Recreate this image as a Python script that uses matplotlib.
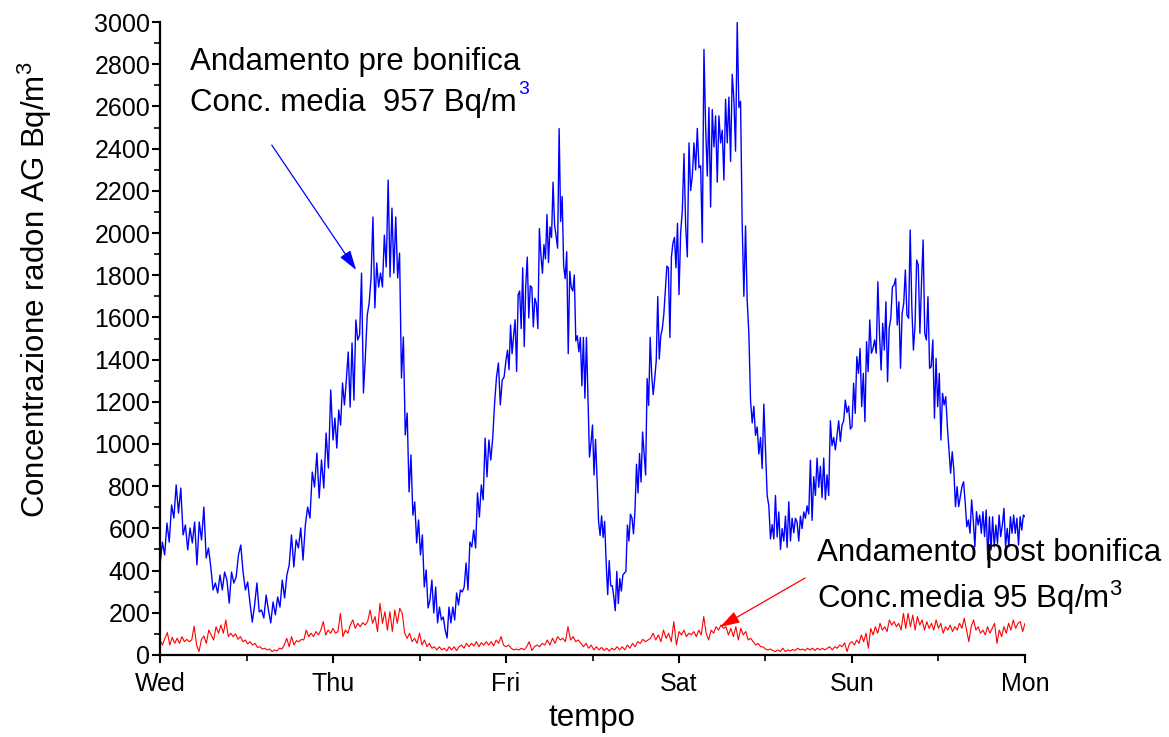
import matplotlib
matplotlib.use("Agg")
import matplotlib.pyplot as plt
import numpy as np

plt.rcParams['font.family'] = ['Liberation Sans', 'DejaVu Sans']
plt.rcParams['mathtext.fontset'] = 'custom'
plt.rcParams['mathtext.rm'] = 'Liberation Sans'

# concentrazione pre bonifica (Bq/m3), un giorno per lista
pre_mer = [427, 535, 474, 625, 535, 711, 649, 806, 673, 791, 569, 616, 498, 602, 531, 630, 427, 630,
           545, 701, 460, 507, 417, 308, 341, 294, 379, 308, 393, 355, 246, 393, 341, 370, 474, 521,
           393, 308, 346, 246, 156, 237, 341, 204, 213, 175, 284, 213, 152, 251, 190, 275, 227, 355,
           270, 379, 427, 569, 417, 545, 507, 602, 450, 616, 701, 649, 867, 796, 957, 744, 924, 791,
           1052, 886, 1256]
pre_gio = [1019, 1123, 981, 1161, 1090, 1289, 1185, 1303, 1436, 1175, 1479, 1208, 1588, 1493, 1517,
           1810, 1242, 1412, 1611, 1668, 1787, 2076, 1645, 1858, 1744, 1810, 1744, 1990, 1839, 2251,
           1792, 2118, 1810, 2076, 1787, 1905, 1313, 1507, 1043, 1147, 773, 948, 663, 725, 531, 640,
           474, 569, 322, 403, 223, 261, 355, 199, 322, 152, 227, 166, 180, 118, 81, 227, 152, 227,
           166, 294, 237, 308, 299, 322, 436, 308, 535, 512, 592, 507, 768, 654, 806, 735, 1028, 844,
           1019, 924, 1028, 1194, 1318, 1384, 1185, 1303, 1318]
pre_ven = [1398, 1445, 1352, 1564, 1428, 1513, 1589, 1344, 1708, 1725, 1547, 1835, 1462, 1750, 1886,
           1598, 1750, 1742, 1555, 1691, 1665, 1547, 2021, 1894, 1809, 1945, 1877, 2088, 1860, 2029,
           1979, 2241, 2038, 1987, 1928, 2495, 2055, 2173, 1843, 1784, 1911, 1428, 1818, 1742, 1725,
           1801, 1488, 1513, 1437, 1505, 1276, 1505, 1217, 1505, 1225, 938, 1005, 1090, 853, 1022,
           836, 633, 566, 659, 557, 633, 438, 286, 447, 328, 328, 278, 210, 396, 244, 362, 303, 379,
           388, 396, 616, 540, 667, 650, 574, 684, 904, 768, 955, 820, 1057, 955, 853, 1310, 1183,
           1505, 1327, 1234, 1310, 1395, 1699, 1403, 1513, 1547, 1615, 1733, 1843, 1835, 1505, 1886,
           1953, 1979, 1835, 2046]
pre_sab = [1708, 2004, 2106, 2376, 2034, 1887, 2427, 2201, 2270, 2427, 2299, 2496, 2309, 2319, 1955,
           2870, 2506, 2270, 2595, 2123, 2585, 2408, 2555, 2241, 2555, 2427, 2487, 2251, 2634, 2427,
           2644, 2339, 2752, 2634, 2388, 2998, 2595, 2624, 2034, 1700, 2034, 1680, 1523, 1208, 1100,
           1179, 1041, 1081, 953, 1031, 884, 1189, 972, 756, 707, 550, 618, 550, 756, 559, 678, 500,
           599, 540, 658, 510, 726, 540, 648, 579, 648, 628, 540, 658, 599, 678, 648, 707, 668, 923,
           638, 845, 756, 933, 795, 894, 746, 933, 736, 854, 756, 1110, 992, 1031, 972, 1041, 1110,
           1012, 1090, 1110, 1208, 1149, 1179, 1071]
pre_dom = [1082, 1288, 1145, 1414, 1335, 1453, 1177, 1335, 1106, 1485, 1343, 1588, 1430, 1453, 1493,
           1430, 1769, 1525, 1351, 1572, 1445, 1674, 1295, 1548, 1596, 1745, 1753, 1785, 1564, 1674,
           1359, 1619, 1667, 1825, 1611, 1596, 2014, 1651, 1445, 1564, 1872, 1848, 1525, 1762, 1967,
           1525, 1493, 1698, 1359, 1366, 1493, 1122, 1406, 1177, 1335, 1019, 1240, 1185, 1224, 1082,
           972, 861, 963, 877, 703, 798, 703, 750, 798, 821, 726, 608, 640, 577, 735, 640, 513, 679,
           616, 663, 577, 679, 561, 687, 450, 655, 498, 655, 513, 616, 529, 663, 561, 616, 695, 513,
           600, 513, 655, 577, 663, 577, 648, 521, 655, 592, 663, 655]

# concentrazione post bonifica (Bq/m3)
post_mer = [71, 47, 79, 106, 47, 84, 55, 79, 55, 87, 63, 74, 63, 71, 137, 47, 16, 74, 90, 55, 118, 95,
            71, 134, 103, 142, 103, 166, 87, 103, 87, 100, 74, 87, 63, 71, 52, 63, 47, 55, 36, 39, 28,
            32, 24, 28, 16, 24, 19, 32, 28, 47, 79, 39, 87, 47, 68, 63, 74, 71, 118, 87, 103, 87, 111,
            95, 118, 158, 95, 118, 103]
post_gio = [126, 103, 111, 197, 87, 118, 103, 142, 166, 126, 150, 134, 153, 142, 158, 213, 150, 182,
            111, 245, 150, 205, 118, 205, 111, 213, 150, 221, 197, 103, 79, 103, 63, 79, 55, 103, 47,
            71, 39, 55, 32, 39, 24, 39, 24, 32, 19, 39, 24, 39, 21, 39, 47, 32, 55, 39, 55, 43, 63, 39,
            58, 47, 63, 47, 63, 43, 71, 55, 87, 47]
post_ven = [39, 47, 32, 24, 28, 24, 32, 24, 39, 63, 21, 39, 47, 39, 55, 47, 71, 47, 79, 55, 87, 71, 79,
            63, 134, 71, 87, 63, 71, 55, 39, 55, 32, 47, 24, 39, 24, 36, 21, 32, 19, 32, 24, 39, 24, 39,
            24, 47, 32, 55, 39, 63, 55, 74, 63, 71, 79, 103, 71, 95, 63, 118, 79, 103, 63, 158, 47]
post_sab = [111, 95, 118, 87, 103, 95, 111, 87, 118, 95, 182, 103, 71, 118, 103, 134, 118, 142, 126,
            134, 95, 126, 87, 134, 71, 126, 95, 111, 71, 79, 63, 47, 55, 39, 39, 28, 24, 28, 21, 16, 24,
            16, 32, 16, 24, 19, 26, 21, 32, 24, 28, 21, 32, 24, 32, 21, 32, 24, 32, 24, 32, 39, 24, 39,
            32, 47, 39, 58, 16, 55]
post_dom = [63, 47, 71, 55, 95, 63, 103, 32, 126, 95, 134, 103, 150, 118, 134, 111, 166, 142, 158, 134,
            150, 118, 197, 126, 197, 134, 189, 118, 182, 142, 166, 118, 158, 126, 150, 118, 166, 126,
            150, 103, 134, 118, 142, 111, 134, 118, 150, 126, 174, 118, 63, 134, 166, 118, 134, 103,
            118, 95, 134, 103, 126, 150, 55, 118, 87, 134, 103, 150, 118, 166, 126, 150, 158, 111, 150]

giorni = ['Wed', 'Thu', 'Fri', 'Sat', 'Sun', 'Mon']
yticks = list(range(0, 3001, 200))


def serie(liste):
    # ogni lista copre 24 ore, l'ultima arriva fino a lunedi
    t = []
    v = []
    for i, g in enumerate(liste):
        if i == len(liste) - 1:
            t.extend(np.linspace(24 * i, 24 * (i + 1), len(g)))
        else:
            t.extend(24 * i + 24 * np.arange(len(g)) / len(g))
        v.extend(g)
    return np.array(t), np.array(v)


t_pre, c_pre = serie([pre_mer, pre_gio, pre_ven, pre_sab, pre_dom])
t_post, c_post = serie([post_mer, post_gio, post_ven, post_sab, post_dom])

fig = plt.figure(figsize=(11.69, 7.37), dpi=100)
ax = fig.add_axes([0.1369, 0.1113, 0.7399, 0.8588])

ax.plot(t_pre, c_pre, color='blue', lw=1.0)
ax.plot(t_post, c_post, color='red', lw=0.8)

ax.set_xlim(0, 120)
ax.set_ylim(0, 3000)
ax.set_xticks(range(0, 121, 24))
ax.set_xticklabels(giorni)
ax.set_xticks(range(12, 121, 24), minor=True)
ax.set_yticks(yticks)
ax.set_yticks(range(100, 3000, 200), minor=True)

for s in ['top', 'right']:
    ax.spines[s].set_visible(False)
for s in ['left', 'bottom']:
    ax.spines[s].set_linewidth(1.6)

ax.tick_params(axis='both', which='major', labelsize=18, width=1.5, length=6, direction='out')
ax.tick_params(axis='both', which='minor', width=1.2, length=4, direction='out')
ax.tick_params(axis='y', which='major', pad=1)
ax.tick_params(axis='x', which='major', pad=6)

ax.set_ylabel('Concentrazione radon AG Bq/m$^{3}$', fontsize=22.5, va='center')
ax.yaxis.set_label_coords(-0.1445, 0.577)
ax.set_xlabel('tempo', fontsize=22.5, va='center')
ax.xaxis.set_label_coords(0.4994, -0.0995)

# annotazioni
t1 = ax.text(4.16, 2810, 'Andamento pre bonifica', fontsize=22.5, va='center')
t2 = ax.text(4.16, 2616, 'Conc. media  957 Bq/m', fontsize=22.5, va='center')
ax.annotate('3', xy=(1.0, 1.0), xycoords=t2, xytext=(1, 5), textcoords='offset points',
            color='blue', fontsize=14, va='top')
ax.annotate('', xy=(27.2, 1825), xytext=(15.5, 2417),
            arrowprops=dict(arrowstyle='-|>,head_length=0.8,head_width=0.25', color='blue',
                            lw=0.9, mutation_scale=15, shrinkA=0, shrinkB=0))

ax.text(91.1, 483, 'Andamento post bonifica', fontsize=22.5, va='center')
ax.text(91.1, 270, 'Conc.media 95 Bq/m$^{3}$', fontsize=22.5, va='center')
ax.annotate('', xy=(77.7, 133), xytext=(89.5, 365),
            arrowprops=dict(arrowstyle='-|>,head_length=0.8,head_width=0.25', color='red',
                            lw=0.9, mutation_scale=15, shrinkA=0, shrinkB=0))

fig.savefig('out.png', dpi=100)
